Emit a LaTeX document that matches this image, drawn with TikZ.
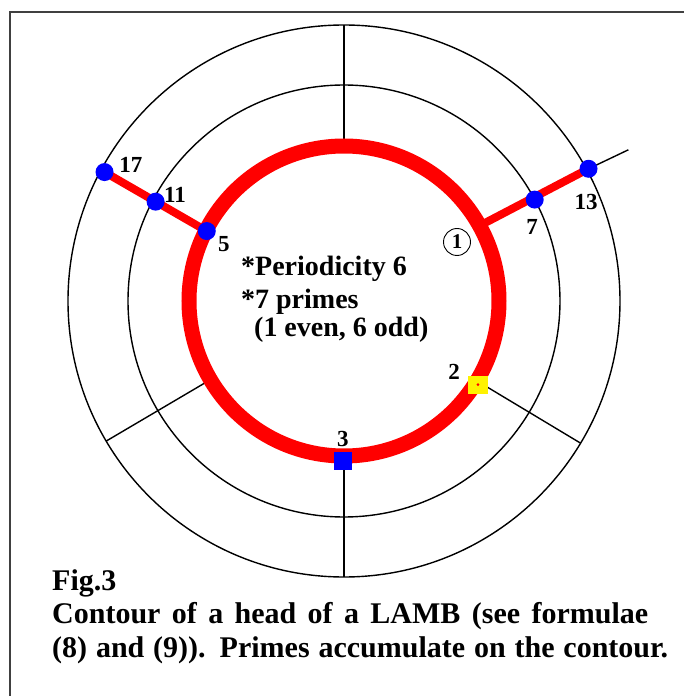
\documentclass[tikz,border=0pt]{standalone}
\usepackage{fontspec}
\setmainfont{Liberation Serif}
\usepackage{tikz}

\begin{document}
\begin{tikzpicture}[x=1pt, y=1pt, every node/.style={font=\bfseries\fontsize{23}{26}\selectfont, inner sep=0pt},
	ring/.style={line width=1.4pt},
	limb/.style={red, line width=8pt},
	dot/.style={circle, fill=blue, minimum size=18pt},
	txt/.style={anchor=base west, font=\bfseries\fontsize{28}{32}\selectfont},
	figtxt/.style={anchor=base west, font=\bfseries\fontsize{30}{36}\selectfont}]
	\useasboundingbox (-344,-395) rectangle (339,301);
	\draw[black!75, line width=2.5pt] (-334,-405) -- (-334,289) -- (350,289);
	% rings and rays
	\draw[ring] (0,0) circle[radius=216];
	\draw[ring] (0,0) circle[radius=276];
	\foreach \a in {90, 210.5, 270, 329} {\draw[ring] (\a:155) -- (\a:276);}
	\coordinate (r1) at (29:158);
	\coordinate (r7) at (28:216);
	\coordinate (r13) at (28.4:278);
	\coordinate (tail) at (28:322);
	\coordinate (r5) at (153:154);
	\coordinate (r11) at (152.2:213);
	\coordinate (r17) at (151.7:272);
	\draw[ring] (r13) -- (tail);
	% the contour
	\draw[red, line width=15pt] (0,0) circle[radius=155];
	\draw[limb] (r1) -- (r13);
	\draw[limb] (r5) -- (r17);
	\foreach \p/\n in {r5/d5, r11/d11, r17/d17, r7/d7, r13/d13} {\node[dot] (\n) at (\p) {};}
	\node[fill=blue, minimum size=18pt] (sq3) at (-1,-160) {};
	\node[fill=yellow, minimum width=20pt, minimum height=18pt] (sq2) at (328:158) {};
	\fill[red] (sq2.center) circle[radius=1.5];
	% labels
	\node (l17) at (-213,136) {17};
	\node (l11) at (-169,106) {11};
	\node (l5) at (-120,57) {5};
	\node (l7) at (188,74) {7};
	\node (l13) at (242,99) {13};
	\node[draw, circle, line width=0.9pt, minimum size=27pt, font=\bfseries\fontsize{21}{22}\selectfont] (l1) at (113,59) {1};
	\node (l2) at (110,-71) {2};
	\node (l3) at (-1,-138) {3};
	\node[txt] (t1) at (-103,25) {*Periodicity 6};
	\node[txt] (t2) at (-103,-8) {*7 primes};
	\node[txt] (t3) at (-90,-35) {(1 even, 6 odd)};
	\node[figtxt] (c1) at (-292,-289) {Fig.3};
	\node[figtxt] (c2) at (-292,-322) {\makebox[596pt][s]{Contour of a head of a LAMB (see formulae}};
	\node[figtxt] (c3) at (-292,-356) {\makebox[616pt][s]{(8) and (9)). Primes accumulate on the contour.}};
\end{tikzpicture}
\end{document}
